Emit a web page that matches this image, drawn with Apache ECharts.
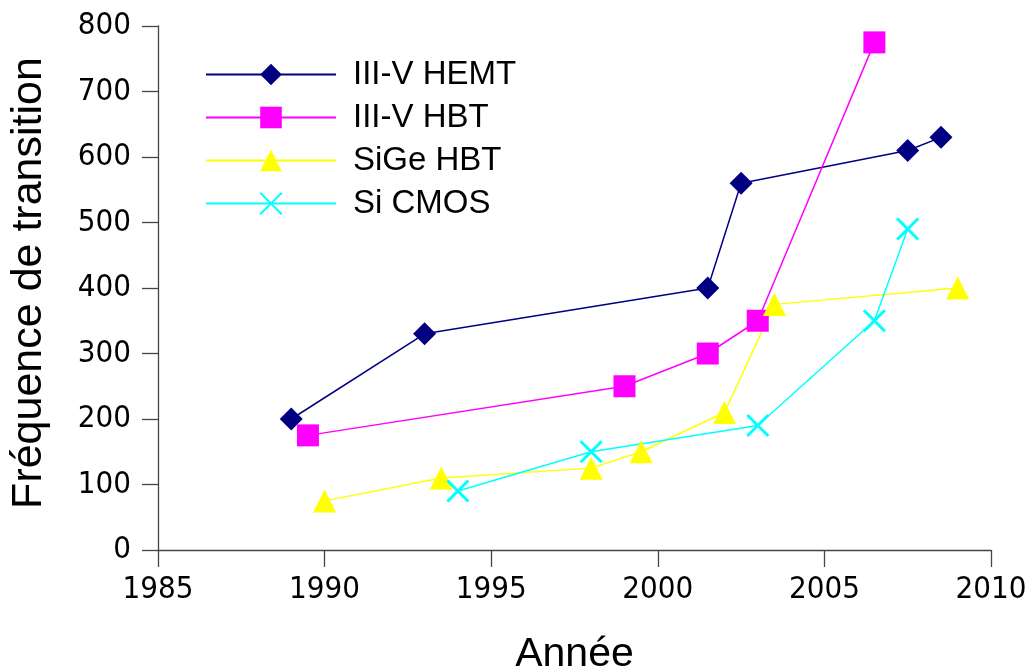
<!DOCTYPE html>
<html>
<head>
<meta charset="utf-8">
<title>Fréquence de transition</title>
<script src="https://cdn.jsdelivr.net/npm/echarts@6/dist/echarts.min.js"></script>
<style>
  html, body { margin: 0; padding: 0; background: #fff; }
  #main { width: 1028px; height: 670px; }
</style>
</head>
<body>
<div id="main"></div>
<script>
// valeurs
const seriesNames = ["III-V HEMT", "III-V HBT", "SiGe HBT", "Si CMOS"];

const hemtYears = [1989, 1993, 2001.5, 2002.5, 2007.5, 2008.5];
const hemtFt = [200, 330, 400, 560, 610, 630];

const hbtYears = [1989.5, 1999, 2001.5, 2003, 2006.5];
const hbtFt = [175, 250, 300, 350, 775];

const sigeYears = [1990, 1993.5, 1998, 1999.5, 2002, 2003.5, 2009];
const sigeFt = [75, 110, 125, 150, 210, 375, 400];

const cmosYears = [1994, 1998, 2003, 2006.5, 2007.5];
const cmosFt = [90, 150, 190, 350, 490];

const xTicks = [1985, 1990, 1995, 2000, 2005, 2010];
const yTicks = [0, 100, 200, 300, 400, 500, 600, 700, 800];

const font = "Liberation Sans";
const tickFont = "'Liberation Sans Narrow', 'DejaVu Sans Condensed', sans-serif";

function pairs(xs, ys) {
  return xs.map((x, i) => [x, ys[i]]);
}

let chart = echarts.init(document.getElementById("main"));

let option = {
  animation: false,
  textStyle: { fontFamily: font, color: "#000" },
  grid: { left: 158, right: 37, top: 26, bottom: 120, containLabel: false, outerBoundsMode: "none" },
  legend: {
    left: 200,
    top: 53,
    orient: "vertical",
    itemWidth: 130,
    itemHeight: 27,
    itemGap: 10,
    data: seriesNames,
    textStyle: { fontFamily: font, fontSize: 33, color: "#000", padding: [0, 0, 0, 12] }
  },
  xAxis: {
    type: "value",
    min: xTicks[0],
    max: xTicks[xTicks.length - 1],
    interval: 5,
    name: "Année",
    nameLocation: "middle",
    nameGap: 84,
    nameTextStyle: { fontFamily: font, fontSize: 41, color: "#000", verticalAlign: "top" },
    axisLine: { lineStyle: { color: "#444", width: 1.3 } },
    axisTick: { show: true, length: 17, lineStyle: { color: "#444", width: 1.3 } },
    axisLabel: { margin: 24, fontSize: 31, color: "#000", fontFamily: tickFont, formatter: v => String(v) },
    splitLine: { show: false }
  },
  yAxis: {
    type: "value",
    min: yTicks[0],
    max: yTicks[yTicks.length - 1],
    interval: 100,
    name: "Fréquence de transition",
    nameLocation: "middle",
    nameGap: 107,
    nameRotate: 90,
    nameTextStyle: { fontFamily: font, fontSize: 43, color: "#000", padding: [0, 0, 0, 10] },
    axisLine: { show: true, lineStyle: { color: "#444", width: 1.3 } },
    axisTick: { show: true, length: 16, lineStyle: { color: "#444", width: 1.3 } },
    axisLabel: { margin: 27, fontSize: 31, color: "#000", fontFamily: tickFont },
    splitLine: { show: false }
  },
  series: [
    {
      name: seriesNames[0],
      type: "line",
      data: pairs(hemtYears, hemtFt),
      symbol: "diamond",
      symbolSize: 23,
      itemStyle: { color: "#000080" },
      lineStyle: { color: "#000080", width: 1.5 }
    },
    {
      name: seriesNames[1],
      type: "line",
      data: pairs(hbtYears, hbtFt),
      symbol: "rect",
      symbolSize: 22,
      itemStyle: { color: "#FF00FF" },
      lineStyle: { color: "#FF00FF", width: 1.5 }
    },
    {
      name: seriesNames[2],
      type: "line",
      data: pairs(sigeYears, sigeFt),
      symbol: "triangle",
      symbolSize: 23,
      itemStyle: { color: "#FFFF00" },
      lineStyle: { color: "#FFFF00", width: 1.5 }
    },
    {
      name: seriesNames[3],
      type: "line",
      data: pairs(cmosYears, cmosFt),
      symbol: "path://M0,0L10,10M10,0L0,10",
      symbolSize: 21,
      itemStyle: { color: "#00FFFF", borderColor: "#00FFFF", borderWidth: 3 },
      lineStyle: { color: "#00FFFF", width: 1.5 }
    }
  ]
};

chart.setOption(option);
</script>
</body>
</html>
